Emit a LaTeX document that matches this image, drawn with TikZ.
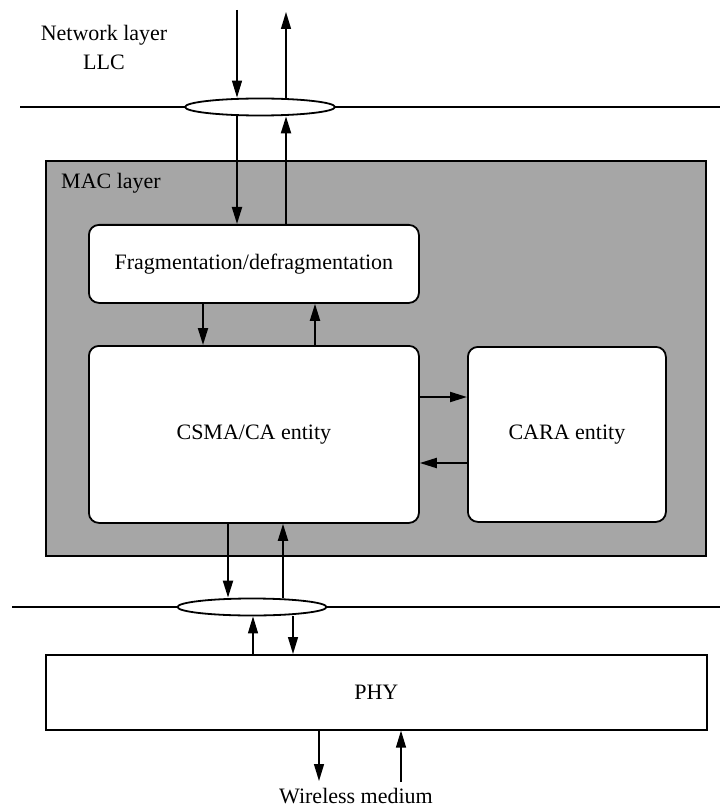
\documentclass[tikz,border=0pt]{standalone}
\usepackage{fontspec}
\setmainfont{Liberation Serif}
\usetikzlibrary{arrows.meta,shapes.geometric}
\definecolor{macgray}{RGB}{166,166,166}
\begin{document}
\begin{tikzpicture}[x=1pt,y=-1pt,
  every node/.style={font=\fontsize{22}{29}\selectfont},
  layerline/.style={line width=1.6pt},
  sap/.style={draw, ellipse, fill=white, line width=1.8pt,
    minimum width=150pt, minimum height=17pt, inner sep=0pt},
  macbox/.style={draw, fill=macgray, line width=2pt, anchor=north west,
    inner sep=0pt},
  entity/.style={draw, fill=white, rounded corners=10pt, line width=1.8pt,
    anchor=north west, inner sep=0pt},
  phybox/.style={draw, fill=white, line width=1.6pt, anchor=north west,
    inner sep=0pt},
  thinflow/.style={line width=1.3pt, -{Triangle[length=17pt,width=10pt]}},
  thickflow/.style={line width=2pt, -{Triangle[length=17pt,width=10pt]}}]

\useasboundingbox (0,0) rectangle (720,810);

% upper service boundary (LLC / MAC)
\coordinate (upl) at (20,107);
\coordinate (upr) at (720,107);
\draw[layerline] (upl) -- (upr);
\node[sap] (topsap) at (260,107) {};
\node[align=center] (net) at (104,47) {Network layer\\LLC};

% MAC layer and its entities
\node[macbox, minimum width=660pt, minimum height=395pt] (mac) at (45,160) {};
\node (maclabel) at (111,183) {MAC layer};
\node[entity, minimum width=330pt, minimum height=78pt] (frag) at (88,224)
  {Fragmentation/defragmentation};
\node[entity, minimum width=330pt, minimum height=177pt] (csma) at (88,345)
  {CSMA/CA entity};
\node[entity, minimum width=198pt, minimum height=175pt] (cara) at (467,346)
  {CARA entity};

% lower service boundary (MAC / PHY)
\coordinate (lol) at (12,607);
\coordinate (lor) at (720,607);
\draw[layerline] (lol) -- (lor);
\node[sap, minimum width=149pt] (botsap) at (252,607) {};

\node[phybox, minimum width=661pt, minimum height=75pt] (phy) at (45,654) {PHY};
\node (air) at (356,796) {Wireless medium};

% data flow columns
\coordinate (llcin) at (237,10);
\coordinate (llcout) at (286,12);
\coordinate (fragdown) at (203,0);
\coordinate (fragup) at (315,0);
\coordinate (req) at (0,397);
\coordinate (resp) at (0,463);
\coordinate (txd) at (228,0);
\coordinate (rxd) at (283,0);
\coordinate (phyup) at (253,0);
\coordinate (phydown) at (293,0);
\coordinate (airout) at (319,781);
\coordinate (airin) at (401,782);

% LLC <-> MAC
\draw[thinflow] (llcin) -- (llcin |- topsap.north);
\draw[thinflow] (llcout |- topsap.north) -- (llcout);
\draw[thickflow] (llcin |- topsap.south) -- (llcin |- frag.north);
\draw[thickflow] (llcout |- frag.north) -- (llcout |- topsap.south);

% fragmentation <-> CSMA/CA
\draw[thickflow] (frag.south -| fragdown) -- (csma.north -| fragdown);
\draw[thickflow] (csma.north -| fragup) -- (frag.south -| fragup);

% CSMA/CA <-> CARA
\draw[thickflow] (csma.east |- req) -- (cara.west |- req);
\draw[thickflow] (cara.west |- resp) -- (csma.east |- resp);

% MAC <-> PHY
\draw[thickflow] (csma.south -| txd) -- (botsap.north -| txd);
\draw[thickflow] (botsap.north -| rxd) -- (csma.south -| rxd);
\draw[thinflow] (phy.north -| phyup) -- (botsap.south -| phyup);
\draw[thinflow] (botsap.south -| phydown) -- (phy.north -| phydown);

% PHY <-> wireless medium
\draw[thinflow] (phy.south -| airout) -- (airout);
\draw[thinflow] (airin) -- (phy.south -| airin);

\end{tikzpicture}
\end{document}
